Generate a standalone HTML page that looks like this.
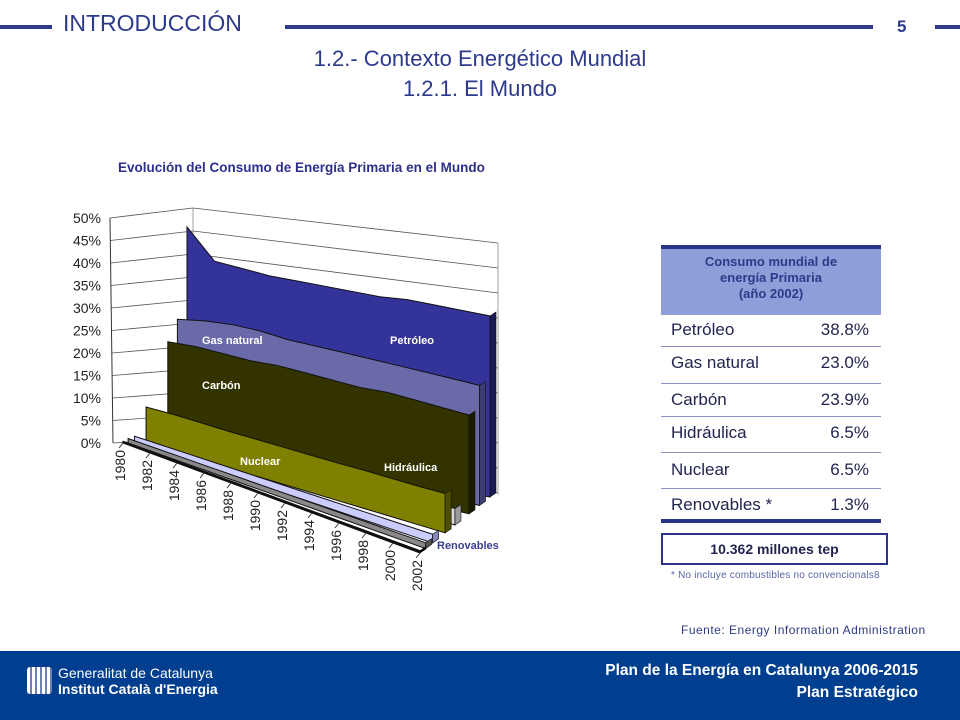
<!DOCTYPE html>
<html><head><meta charset="utf-8"><style>
body{margin:0;width:960px;height:720px;position:relative;background:#fff;font-family:"Liberation Sans",sans-serif;overflow:hidden}
.a{position:absolute}
.hl{position:absolute;height:4px;background:#2d3a8c;top:25px}
.row{position:absolute;left:661px;width:220px;height:30px;font-size:17px;color:#22254f;display:flex;justify-content:space-between;align-items:center;box-sizing:border-box;padding:0 12px 0 10px}
.sep{position:absolute;left:661px;width:220px;height:1px;background:#8a90bf}
</style></head><body>
<div class="hl" style="left:0;width:52px"></div>
<div class="a" style="left:63px;top:10px;font-size:23px;color:#2d3a8c">INTRODUCCIÓN</div>
<div class="hl" style="left:285px;width:588px"></div>
<div class="a" style="left:897px;top:17px;font-size:17px;font-weight:bold;color:#2d3a8c">5</div>
<div class="hl" style="left:935px;width:25px"></div>
<div class="a" style="left:0;width:960px;top:44px;text-align:center;font-size:22px;color:#2d3a8c;line-height:30px">1.2.- Contexto Energético Mundial<br>1.2.1. El Mundo</div>

<div class="a" style="left:118px;top:160px;font-size:13.5px;font-weight:bold;color:#2e2f8c">Evolución del Consumo de Energía Primaria en el Mundo</div>
<svg class="a" id="chart" style="left:0;top:0" width="960" height="640"></svg>

<div class="a" style="left:661px;top:245px;width:220px;height:4px;background:#2d3388"></div>
<div class="a" style="left:661px;top:249px;width:220px;height:66px;background:#8e9ed9;color:#2e3a87;font-weight:bold;font-size:13px;text-align:center;line-height:16px;padding-top:5px;box-sizing:border-box">Consumo mundial de<br>energía Primaria<br>(año 2002)</div>
<div class="row" style="top:315px"><span>Petróleo</span><span>38.8%</span></div>
<div class="sep" style="top:346px"></div>
<div class="row" style="top:348px"><span>Gas natural</span><span>23.0%</span></div>
<div class="sep" style="top:383px"></div>
<div class="row" style="top:385px"><span>Carbón</span><span>23.9%</span></div>
<div class="sep" style="top:416px"></div>
<div class="row" style="top:418px"><span>Hidráulica</span><span>6.5%</span></div>
<div class="sep" style="top:452px"></div>
<div class="row" style="top:455px"><span>Nuclear</span><span>6.5%</span></div>
<div class="sep" style="top:488px"></div>
<div class="row" style="top:490px"><span>Renovables *</span><span>1.3%</span></div>
<div class="a" style="left:661px;top:519px;width:220px;height:4px;background:#2d3388"></div>
<div class="a" style="left:661px;top:533px;width:227px;height:32px;border:2px solid #2d3388;box-sizing:border-box;text-align:center;font-size:14px;font-weight:bold;color:#22254f;line-height:28px">10.362 millones tep</div>
<div class="a" style="left:671px;top:570px;font-size:10px;letter-spacing:0.2px;color:#5a64a8">* No incluye combustibles no convencionals8</div>
<div class="a" style="left:681px;top:623px;font-size:12px;letter-spacing:0.5px;color:#2e3a87">Fuente: Energy Information Administration</div>

<div class="a" style="left:0;top:651px;width:960px;height:69px;background:#003e8f"></div>
<div class="a" style="left:27px;top:667px;width:25px;height:27px;border-radius:3px;background:repeating-linear-gradient(90deg,#fff 0 3px,#6b7fb8 3px 5px)"></div>
<div class="a" style="left:58px;top:665px;font-size:14px;color:#fff;line-height:16px">Generalitat de Catalunya<br><b>Institut Català d'Energia</b></div>
<div class="a" style="right:42px;top:660px;font-size:15.5px;font-weight:bold;color:#fff;text-align:right;line-height:22px">Plan de la Energía en Catalunya 2006-2015<br>Plan Estratégico</div>

<script>
const years=["1980","1982","1984","1986","1988","1990","1992","1994","1996","1998","2000","2002"];
const petroleo=[48,41,40,39,38.5,38,37.5,37,37,36.5,36,35.5];
const gasNatural=[27.5,28,28,27.5,26.5,26,25.5,25,24.5,24,23.5,23];
const carbon=[22.5,22.5,22,21.5,21.5,21,20.5,20,20,19.5,19,18.5];
const hidraulica=[3,3,3,3,3,3,3,3,3,3,3,3];
const nuclear=[8,8,7.8,7.6,7.5,7.4,7.3,7.2,7.2,7.1,7,7];
const renovables=[1.5,1.5,1.5,1.5,1.5,1.5,1.5,1.5,1.5,1.5,1.5,1.5];
const yTicks=[0,5,10,15,20,25,30,35,40,45,50];
const NS="http://www.w3.org/2000/svg";
const svg=document.getElementById('chart');
function mk(t,a){const e=document.createElementNS(NS,t);for(const k in a)e.setAttribute(k,a[k]);svg.appendChild(e);return e;}
function proj(d,t,v){const bx=123+64*d+(297+6*d)*t;const by=443+(110-56*d)*t;const s=4.5+t*(1.4-0.8*d);return [bx,by-v*s];}
yTicks.forEach(v=>{
 const ax=113-v*0.06, ay=443-v*4.5;
 const bx=193, byl=438-v*4.6, byr=493-v*5;
 const g=mk('polyline',{points:`${ax},${ay} ${bx},${byl} 498,${byr}`,fill:'none',stroke:'#555',"stroke-width":0.8});
 
 const tl=mk('text',{x:101,y:ay+5,"text-anchor":"end","font-size":14,fill:'#222',"font-family":"Liberation Sans"});
 tl.textContent=v+'%';
});
mk('line',{x1:193,y1:208,x2:193,y2:440,stroke:'#888',"stroke-width":0.8});
mk('line',{x1:498,y1:243,x2:498,y2:495,stroke:'#888',"stroke-width":0.8});
mk('line',{x1:113,y1:443,x2:110,y2:218,stroke:'#333',"stroke-width":1});
const series=[
 {v:petroleo,d:1,c:'#343399',side:'#1a1a55',n:'series-petroleo'},
 {v:gasNatural,d:0.85,c:'#6a6aa8',side:'#3c3c70',n:'series-gas-natural'},
 {v:carbon,d:0.7,c:'#333300',side:'#1a1a00',n:'series-carbon'},
 {v:hidraulica,d:0.5,c:'#d8d8d8',side:'#999',n:'series-hidraulica'},
 {v:nuclear,d:0.36,c:'#808000',side:'#4d4d00',n:'series-nuclear'},
 {v:renovables,d:0.18,c:'#ccccff',side:'#8888bb',n:'series-renovables'},
 {v:[1,1,1,1,1,1,1,1,1,1,1,1],d:0.08,c:'#888',side:'#555',n:'floor-strip'},
 {v:[0.4,0.4,0.4,0.4,0.4,0.4,0.4,0.4,0.4,0.4,0.4,0.4],d:0,c:'#111',side:'#000',n:'floor-base'}
];
series.forEach(s=>{
 const n=s.v.length;const top=[],bot=[];
 s.v.forEach((v,i)=>{const t=i/(n-1);top.push(proj(s.d,t,v));bot.push(proj(s.d,t,0));});
 const pts=top.concat(bot.reverse()).map(p=>p.join(',')).join(' ');
 const p=mk('polygon',{points:pts,fill:s.c,stroke:'#111',"stroke-width":1});
 
 const tr=top[n-1],br=proj(s.d,1,0);
 const sd=mk('polygon',{points:`${tr[0]},${tr[1]} ${tr[0]+6},${tr[1]-4} ${br[0]+6},${br[1]-4} ${br[0]},${br[1]}`,fill:s.side,stroke:'#111',"stroke-width":0.6});
 
});
years.forEach((y,i)=>{
 const t=i/(years.length-1);const [x,yy]=proj(0,t,0);
 const tk=mk('line',{x1:x,y1:yy,x2:x-4,y2:yy+5,stroke:'#333'});
 
 const tx=mk('text',{x:0,y:0,transform:`translate(${x+2},${yy+7}) rotate(-90)`,"text-anchor":"end","font-size":14,fill:'#222',"font-family":"Liberation Sans"});
 tx.textContent=y;
});
const labels=[["Gas natural",202,344,'#fff'],["Petróleo",390,344,'#fff'],["Carbón",202,389,'#fff'],["Nuclear",240,465,'#fff'],["Hidráulica",384,471,'#fff'],["Renovables",437,549,'#3a3f8f']];
labels.forEach(l=>{
 const t=mk('text',{x:l[1],y:l[2],"font-size":11,"font-weight":"bold",fill:l[3],"font-family":"Liberation Sans"});
 t.textContent=l[0];
});
</script>
</body></html>
